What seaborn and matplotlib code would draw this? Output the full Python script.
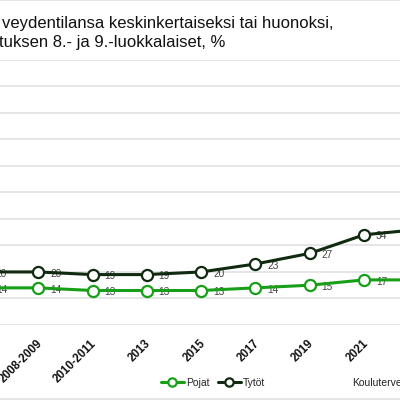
import numpy as np
import pandas as pd
import matplotlib
matplotlib.use("Agg")
import matplotlib.pyplot as plt
import matplotlib.transforms as mtransforms
from matplotlib.lines import Line2D
import seaborn as sns

years = ["2006-2007", "2008-2009", "2010-2011", "2013", "2015", "2017", "2019", "2021", "2023"]
pojat = [14, 14, 13, 13, 13, 14, 15, 17, 17]
tytot = [20, 20, 19, 19, 20, 23, 27, 34, 36]
series_names = ["Pojat", "Tytöt"]
title_lines = ["veydentilansa keskinkertaiseksi tai huonoksi,",
               "tuksen 8.- ja 9.-luokkalaiset, %"]
source = "Kouluterveyskysely"
y_ticks = [0, 10, 20, 30, 40, 50, 60, 70, 80, 90, 100]

sns.set_theme(style="white")
plt.rcParams['font.family'] = ['Liberation Sans', 'DejaVu Sans']

colors = {"Pojat": "#17a017", "Tytöt": "#0f2a0f"}

fig = plt.figure(figsize=(4, 4), dpi=100)
ax = fig.add_axes([0, 75/400, 1, (325-59.7)/400])

pos = np.arange(len(years))
xmin = 0.295
xmax = xmin + 400/54.3
for name, vals in zip(series_names, [pojat, tytot]):
    c = colors[name]
    sns.lineplot(x=pos, y=vals, ax=ax, color=c, linewidth=2.2, marker='o',
                 markersize=8, markerfacecolor='white', markeredgecolor=c,
                 markeredgewidth=1.6, zorder=3)
    for i, v in zip(pos, vals):
        if i > xmax:
            continue
        ax.annotate(str(v), (i, v), xytext=(8.5, -1.2), textcoords='offset points',
                    ha='left', va='center', fontsize=7.3, color='#444444',
                    annotation_clip=False, zorder=2)

ax.set_yticks(y_ticks)
ax.set_yticklabels([])
ax.tick_params(axis='y', length=0)
ax.grid(axis='y', color='#e3e3e3', linewidth=1.3)
ax.grid(axis='x', visible=False)
for s in ax.spines.values():
    s.set_visible(False)
ax.set_xticks(pos)
ax.set_xticklabels(years, rotation=45, ha='right', va='top', rotation_mode='anchor',
                   fontsize=8.3, fontweight='bold', color='#111111')
ax.tick_params(axis='x', length=0, pad=9)
shift = mtransforms.ScaledTranslation(-2/100, 0, fig.dpi_scale_trans)
for lab in ax.get_xticklabels():
    lab.set_transform(lab.get_transform() + shift)
ax.set_xlabel("")
ax.set_ylabel("")
ax.set_xlim(xmin, xmax)
ax.set_ylim(0, 100)

fig.text(0.004, 1 - 28/400, title_lines[0], fontsize=12, ha='left', va='baseline', color='#111111')
fig.text(-0.002, 1 - 47/400, title_lines[1], fontsize=12, ha='left', va='baseline', color='#111111')

handles = [Line2D([0], [0], color=colors[n], linewidth=2.2, marker='o', markersize=6,
                  markerfacecolor='white', markeredgecolor=colors[n], markeredgewidth=1.6)
           for n in series_names]
fig.legend(handles, series_names, loc='center', bbox_to_anchor=(213/400, 1 - 383/400),
           ncol=2, frameon=False, fontsize=7.5, handlelength=2.2, handletextpad=0.2,
           columnspacing=0.8)
fig.text(352/400, 1 - 383/400, source, fontsize=7.5, ha='left', va='center', color='#222222')

fig.add_artist(Line2D([0, 1], [0.999, 0.999], color='#e3e3e3', linewidth=1.3, transform=fig.transFigure))
fig.add_artist(Line2D([0, 1], [0.003, 0.003], color='#e3e3e3', linewidth=1.3, transform=fig.transFigure))

fig.savefig("out.png", dpi=100)
